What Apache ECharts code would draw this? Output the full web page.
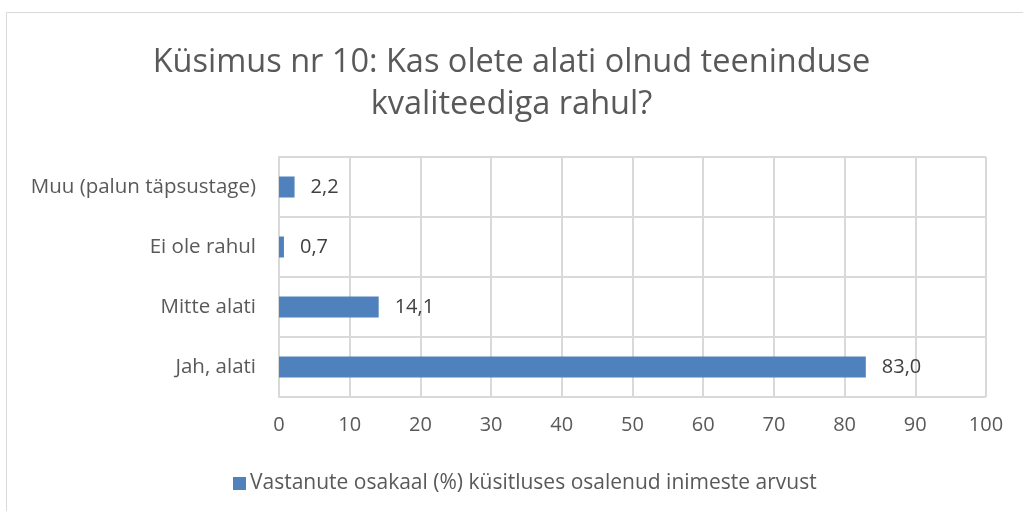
<!DOCTYPE html>
<html>
<head>
<meta charset="utf-8">
<script src="https://cdn.jsdelivr.net/npm/echarts@6/dist/echarts.min.js"></script>
<style>
  html, body { margin: 0; padding: 0; background: #fff; }
  #chart { width: 1023px; height: 511px; }
</style>
</head>
<body>
<div id="chart"></div>
<script>
// andmed (alt üles, nagu joonisel)
const categories = ['Jah, alati', 'Mitte alati', 'Ei ole rahul', 'Muu (palun täpsustage)'];
const shares = [83.0, 14.1, 0.7, 2.2];
const seriesName = 'Vastanute osakaal (%) küsitluses osalenud inimeste arvust';
const titleText = 'Küsimus nr 10: Kas olete alati olnud teeninduse\nkvaliteediga rahul?';

const font = 'Open Sans';
const chart = echarts.init(document.getElementById('chart'));

const option = {
  animation: false,
  textStyle: { fontFamily: font },
  graphic: [{
    type: 'rect',
    shape: { x: 6.5, y: 12.5, width: 1040, height: 520 },
    style: { fill: 'none', stroke: '#d9d9d9', lineWidth: 1 },
    silent: true
  }],
  title: {
    text: titleText,
    left: 'center',
    top: 37,
    textStyle: {
      fontFamily: font,
      fontSize: 32.5,
      fontWeight: 'normal',
      color: '#595959',
      lineHeight: 42
    }
  },
  legend: {
    top: 473,
    left: 233,
    padding: 0,
    itemWidth: 13,
    itemHeight: 13,
    itemGap: 4,
    icon: 'rect',
    textStyle: { fontSize: 21, color: '#595959', fontFamily: font, padding: [0, 0, 0, -1] }
  },
  grid: { left: 279, right: 37, top: 157, bottom: 114, containLabel: false },
  xAxis: {
    type: 'value',
    min: 0,
    max: 100,
    interval: 10,
    axisLine: { show: false },
    axisTick: { show: false },
    axisLabel: { fontSize: 20, color: '#595959', margin: 18, fontFamily: font },
    splitLine: { show: true, lineStyle: { color: '#d9d9d9', width: 2 } }
  },
  yAxis: {
    type: 'category',
    data: categories,
    axisLine: { show: true, lineStyle: { color: '#d9d9d9', width: 2 } },
    axisTick: { show: true, length: 0 },
    splitLine: { show: true, lineStyle: { color: '#d9d9d9', width: 2 } },
    axisLabel: { fontSize: 20.5, color: '#595959', margin: 23, fontFamily: font }
  },
  series: [{
    name: seriesName,
    type: 'bar',
    data: shares,
    barWidth: 21,
    itemStyle: { color: '#4f81bd' },
    label: {
      show: true,
      position: 'right',
      distance: 16,
      fontSize: 20,
      color: '#404040',
      fontFamily: font,
      formatter: p => p.value.toFixed(1).replace('.', ',')
    }
  }]
};

chart.setOption(option);
</script>
</body>
</html>
